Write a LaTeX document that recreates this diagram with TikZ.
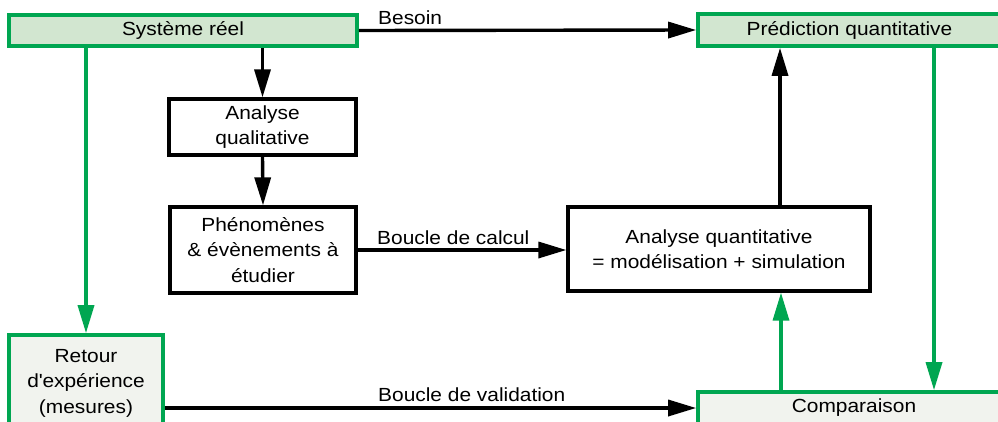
\documentclass[tikz,border=0pt]{standalone}
\usepackage{fontspec}
\setmainfont{Liberation Sans}[FakeStretch=1.1]
\usetikzlibrary{arrows.meta}
\definecolor{gline}{RGB}{0,166,81}
\definecolor{gfill}{RGB}{210,230,208}
\definecolor{pfill}{RGB}{241,243,238}
\tikzset{
  txt/.style={font=\fontsize{19}{25.5}\selectfont, align=center, inner sep=0pt},
  blackbox/.style={txt, draw=black, line width=3.2pt, fill=white},
  greenbox/.style={txt, draw=gline, line width=3.6pt, fill=gfill},
  palebox/.style={txt, draw=gline, line width=3.6pt, fill=pfill},
  arr/.style={draw=black, line width=3.4pt, -{Triangle[length=28pt,width=16pt]}},
  garr/.style={draw=gline, line width=3.4pt, -{Triangle[length=28pt,width=16pt]}},
  lbl/.style={font=\fontsize{19}{25.5}\selectfont, inner sep=0pt, anchor=base west}
}
\begin{document}
\begin{tikzpicture}[x=1pt,y=-1pt]
\useasboundingbox (0,0) rectangle (998,421);
\clip (0,0) rectangle (998,421);
\fill[white] (0,0) rectangle (998,421);

\node[greenbox, minimum width=348pt, minimum height=31pt] (sys) at (183,30.5) {Système réel};
\node[greenbox, minimum width=303pt, minimum height=32pt] (pred) at (849.5,30) {Prédiction quantitative};
\node[blackbox, minimum width=187pt, minimum height=56pt] (aql) at (262.5,127) {Analyse\\qualitative};
\node[blackbox, minimum width=186pt, minimum height=86pt] (phe) at (263,250) {Phénomènes\\\& évènements à\\étudier};
\node[blackbox, minimum width=302pt, minimum height=84pt] (aqt) at (719,249) {Analyse quantitative\\= modélisation + simulation};
\node[palebox, minimum width=154pt, minimum height=96pt] (ret) at (86,383) {Retour\\d\textquotesingle expérience\\(mesures)};
\node[palebox, minimum width=312pt, minimum height=32pt] (comp) at (854,408) {Comparaison};

\coordinate (aqtup) at ([xshift=61pt]aqt.north);
\coordinate (compup) at ([xshift=-73pt]comp.north);
\coordinate (preddown) at ([xshift=84.5pt]pred.south);

\draw[arr] (sys.east) -- (pred.west);
\node[lbl] (lbes) at (378,24) {Besoin};
\draw[arr] (aql.north |- sys.south) -- (aql.north);
\draw[arr] (aql.south) -- (phe.north);
\draw[arr] (phe.east) -- (phe.east -| aqt.west);
\node[lbl] (lcal) at (377,244) {Boucle de calcul};
\draw[arr] (aqtup) -- (aqtup |- pred.south);
\draw[garr] (ret.north |- sys.south) -- (ret.north);
\draw[arr] (comp.west -| ret.east) -- (comp.west);
\node[lbl] (lval) at (378,401) {Boucle de validation};
\draw[garr] (compup) -- (compup |- aqt.south);
\draw[garr] (preddown) -- (preddown |- comp.north);
\end{tikzpicture}
\end{document}
